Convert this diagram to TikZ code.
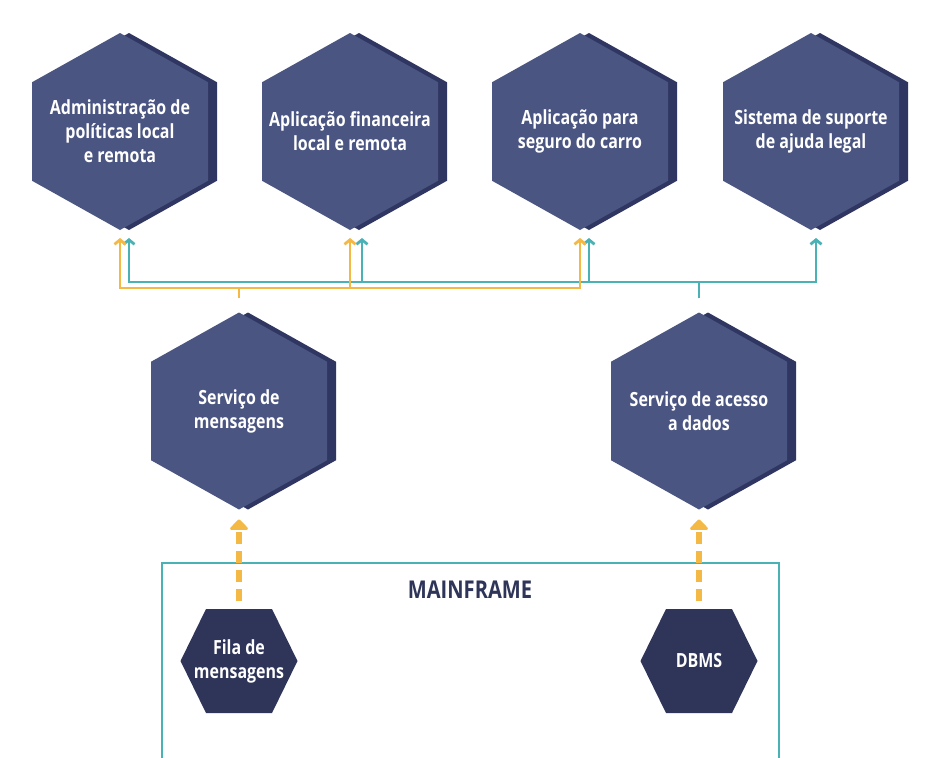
\documentclass[tikz,border=0pt]{standalone}
\usepackage{fontspec}
\newfontfamily\hexfont{Open Sans}[FakeStretch=0.82]
\usetikzlibrary{arrows.meta}
\definecolor{hexmain}{HTML}{4B5581}
\definecolor{hexdark}{HTML}{2F3662}
\definecolor{hexbot}{HTML}{2E3559}
\definecolor{myyellow}{HTML}{F4B944}
\definecolor{myteal}{HTML}{4AB2B4}
\tikzset{
  hextext/.style={text=white, font=\hexfont\bfseries\fontsize{19.5}{24}\selectfont, align=center, inner sep=0pt},
  yline/.style={draw=myyellow, line width=2.8pt, -{Straight Barb[length=4.5pt,width=11pt]}, shorten >=8pt},
  tline/.style={draw=myteal, line width=2.8pt, -{Straight Barb[length=4.5pt,width=11pt]}, shorten >=8pt},
  dasharr/.style={draw=myyellow, line width=6pt, dash pattern=on 12pt off 7pt, -{Triangle[length=11pt,width=21pt,round]}, shorten >=10pt, shorten <=8pt},
  tealbox/.style={draw=myteal, line width=2.8pt},
  mftext/.style={text=hexbot, font=\hexfont\bfseries\fontsize{24.5}{28}\selectfont, inner sep=0pt}
}
\newcommand\hexP[4]{%
  \begin{scope}[shift={(#2,#3)}]
    \fill[hexdark] (9,-98.5) -- (97,-49.25) -- (97,49.25) -- (9,98.5) -- (-79,49.25) -- (-79,-49.25) -- cycle;
    \fill[hexmain] (0,-98.5) -- (88,-49.25) -- (88,49.25) -- (0,98.5) -- (-88,49.25) -- (-88,-49.25) -- cycle;
    \node[hextext] (#1) at (0,0) {#4};
    \coordinate (#1-b) at (0,98.5);
    \coordinate (#1-sb) at (9,98.5);
    \coordinate (#1-t) at (0,-98.5);
  \end{scope}}
\newcommand\hexF[4]{%
  \begin{scope}[shift={(#2,#3)}]
    \fill[hexbot] (-33,-52) -- (33,-52) -- (58.5,0) -- (33,52) -- (-33,52) -- (-58.5,0) -- cycle;
    \node[hextext] (#1) at (0,0) {#4};
    \coordinate (#1-t) at (0,-52);
  \end{scope}}
\begin{document}
\begin{tikzpicture}[x=1pt,y=-1pt]
\useasboundingbox (0,0) rectangle (935,758);
\fill[white] (0,0) rectangle (935,758);
% mainframe box
\draw[tealbox] (162,770) -- (162,563) -- (779,563) -- (779,770);
\node[mftext] (mf) at (470,590) {MAINFRAME};
% top hexes
\hexP{h1}{120}{131.5}{Administração de\\políticas local\\e remota}
\hexP{h2}{350}{131.5}{Aplicação financeira\\local e remota}
\hexP{h3}{580}{131.5}{Aplicação para\\seguro do carro}
\hexP{h4}{811}{131.5}{Sistema de suporte\\de ajuda legal}
% middle hexes
\hexP{m1}{239}{411}{Serviço de\\mensagens}
\hexP{m2}{699}{411}{Serviço de acesso\\a dados}
% bottom hexes
\hexF{b1}{239}{661}{Fila de\\mensagens}
\hexF{b2}{699}{661}{DBMS}
% stems
\coordinate (ys) at (239,298);
\coordinate (ts) at (699,298);
% teal connectors
\draw[tline] (ts) -- ++(0,-16) -| (h1-sb);
\draw[tline] (ts) -- ++(0,-16) -| ([xshift=3pt]h2-sb);
\draw[tline] (ts) -- ++(0,-16) -| (h3-sb);
\draw[tline] (ts) -- ++(0,-16) -| ([xshift=-4pt]h4-sb);
% yellow connectors
\draw[yline] (ys) -- ++(0,-10) -| (h1-b);
\draw[yline] (ys) -- ++(0,-10) -| (h2-b);
\draw[yline] (ys) -- ++(0,-10) -| (h3-b);
% dashed arrows
\draw[dasharr] (b1-t) -- (m1-b);
\draw[dasharr] (b2-t) -- (m2-b);
\end{tikzpicture}
\end{document}
